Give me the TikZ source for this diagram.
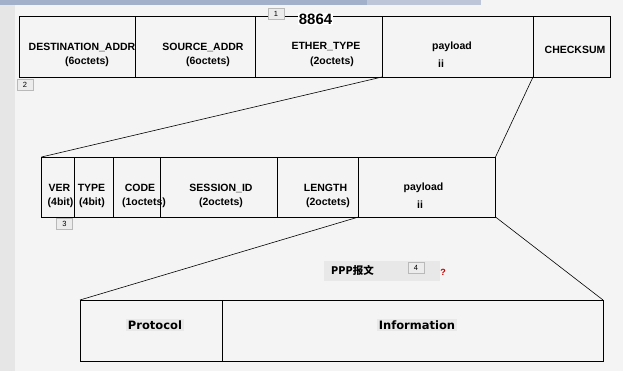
\documentclass[tikz,border=0pt]{standalone}
\usepackage{fontspec}
\setsansfont{Liberation Sans}
\newfontfamily\wideFont{DejaVu Sans}
\newfontfamily\cjkFont{Noto Sans CJK SC}
\definecolor{pageGray}{HTML}{F4F4F4}
\definecolor{stripGray}{HTML}{E6E6E6}
\definecolor{barDark}{HTML}{A2B0CA}
\definecolor{barLight}{HTML}{BCC6D8}
\definecolor{markGray}{HTML}{E8E8E8}
\tikzset{
  cell/.style={draw, line width=0.8pt, anchor=north west, inner sep=0pt, outer sep=0pt, minimum height=61pt},
  lbl/.style={font=\sffamily\bfseries\fontsize{10.5}{12}\selectfont, inner sep=0pt},
  biglbl/.style={font=\wideFont\bfseries\fontsize{11.5}{13}\selectfont, fill=markGray, inner sep=2pt},
  tag/.style={draw=gray!55, fill=gray!15, font=\sffamily\fontsize{7.5}{8}\selectfont, minimum width=16pt, minimum height=11pt, inner sep=0pt}
}
\begin{document}
\begin{tikzpicture}[x=1pt,y=-1pt]
        % PAGE
        \useasboundingbox (0,0) rectangle (623,371);
        \fill[pageGray] (0,0) rectangle (623,371);
        \fill[stripGray] (0,0) rectangle (15,371);
        \fill[barDark] (0,0) rectangle (367,5);
        \fill[barLight] (367,0) rectangle (481,5);

        % ETHERNET FRAME
        \node[cell, minimum width=116pt] (dest)  at (19,16)  {};
        \node[cell, minimum width=120pt] (src)   at (135,16) {};
        \node[cell, minimum width=127pt] (ether) at (255,16) {};
        \node[cell, minimum width=151pt] (payA)  at (382,16) {};
        \node[cell, minimum width=77pt]  (chk)   at (533,16) {};
        \draw
        (82,47)  node[lbl] (destname)  {DESTINATION\_ADDR}
        (87,62)  node[lbl] (destsize)  {(6octets)}
        (203,47) node[lbl] (srcname)   {SOURCE\_ADDR}
        (208,62) node[lbl] (srcsize)   {(6octets)}
        (326,47) node[lbl] (ethername) {ETHER\_TYPE}
        (332,62) node[lbl] (ethersize) {(2octets)}
        (452,47) node[lbl] (payAname)  {payload}
        (441,64) node[lbl] (payAmark)  {ii}
        (575,50) node[lbl] (chkname)   {CHECKSUM}
        ;
        \node[font=\sffamily\bfseries\fontsize{15}{16}\selectfont, fill=white, inner sep=1pt] (etype) at (315.5,19) {8864};
        \node[tag] (tagA) at (276,14)   {1};
        \node[tag] (tagB) at (25,84.5)  {2};

        % PPPOE HEADER
        \node[cell, minimum height=60pt, minimum width=33pt]  (ver)  at (41.5,157) {};
        \node[cell, minimum height=60pt, minimum width=39pt]  (type) at (74.5,157) {};
        \node[cell, minimum height=60pt, minimum width=47pt]  (code) at (113.5,157) {};
        \node[cell, minimum height=60pt, minimum width=117pt] (sess) at (160.5,157) {};
        \node[cell, minimum height=60pt, minimum width=81pt]  (len)  at (277.5,157) {};
        \node[cell, minimum height=60pt, minimum width=137pt] (payB) at (358.5,157) {};
        \draw
        (59.5,188) node[lbl] (vername)   {VER}
        (60.5,203) node[lbl] (versize)   {(4bit)}
        (91.5,188) node[lbl] (typename)  {TYPE}
        (92,203)   node[lbl] (typesize)  {(4bit)}
        (140,188)  node[lbl] (codename)  {CODE}
        (144,203)  node[lbl] (codesize)  {(1octets)}
        (221,188)  node[lbl] (sessname)  {SESSION\_ID}
        (221,203)  node[lbl] (sesssize)  {(2octets)}
        (325.5,188) node[lbl] (lenname)  {LENGTH}
        (328,203)  node[lbl] (lensize)   {(2octets)}
        (423.5,188) node[lbl] (payBname) {payload}
        (420,205)  node[lbl] (payBmark)  {ii}
        ;
        \node[tag] (tagC) at (64.5,224) {3};

        % PPP FRAME
        \fill[markGray] (324,261) rectangle (440,281);
        \node[font=\cjkFont\bfseries\fontsize{10.5}{12}\selectfont, inner sep=0pt] (ppp) at (352.5,270) {PPP报文};
        \node[tag] (tagD) at (416,268) {4};
        \node[font=\sffamily\bfseries\fontsize{9}{10}\selectfont, text=red!75!black, inner sep=0pt] (help) at (443,272) {?};
        \node[cell, minimum width=142pt] (proto) at (80,300)  {};
        \node[cell, minimum width=381pt] (info)  at (222,300) {};
        \node[biglbl] (protoname) at (155,325) {Protocol};
        \node[biglbl] (infoname)  at (417,325) {Information};

        % ZOOM LINES
        \draw[line width=0.6pt] (payA.south west) -- (ver.north west);
        \draw[line width=0.6pt] (chk.south west) -- (payB.north east);
        \draw[line width=0.6pt] (len.south east) -- (proto.north west);
        \draw[line width=0.6pt] (payB.south east) -- (info.north east);
      \end{tikzpicture}
\end{document}
